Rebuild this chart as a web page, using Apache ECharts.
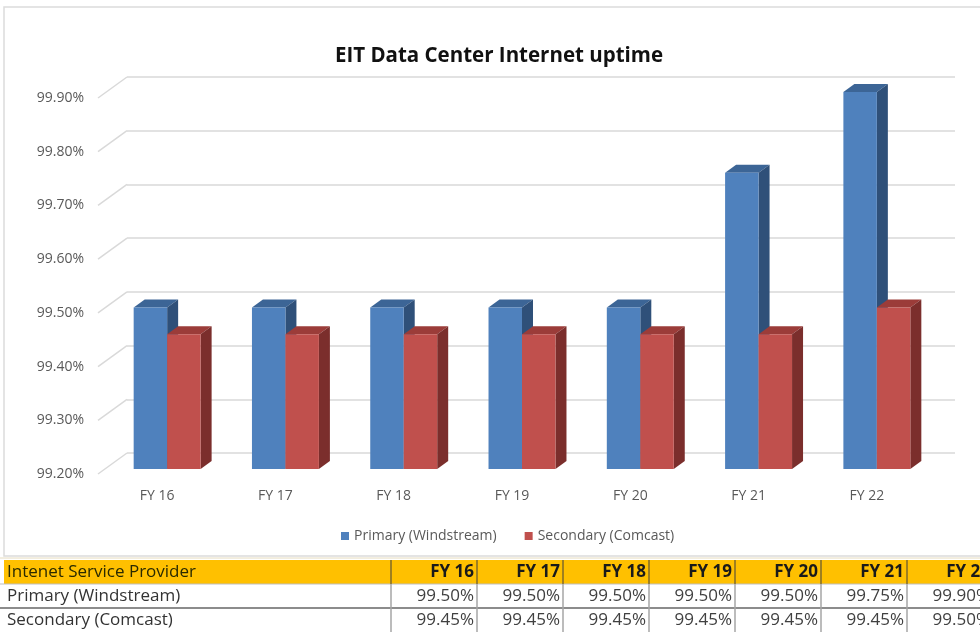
<!DOCTYPE html>
<html>
<head>
<meta charset="utf-8">
<script src="https://cdn.jsdelivr.net/npm/echarts@6/dist/echarts.min.js"></script>
<style>
html,body{margin:0;padding:0;background:#fff;}
#chart{width:980px;height:632px;}
</style>
</head>
<body>
<div id="chart"></div>
<script>
// ---- data ----
const categories = ['FY 16', 'FY 17', 'FY 18', 'FY 19', 'FY 20', 'FY 21', 'FY 22'];
const primary = [99.50, 99.50, 99.50, 99.50, 99.50, 99.75, 99.90];
const secondary = [99.45, 99.45, 99.45, 99.45, 99.45, 99.45, 99.50];
const seriesNames = ['Primary (Windstream)', 'Secondary (Comcast)'];
const tableHeader = 'Intenet Service Provider';
const chartTitle = 'EIT Data Center Internet uptime';
const yMin = 99.2, yMax = 99.9, yStep = 0.1;
const yTickValues = [99.2, 99.3, 99.4, 99.5, 99.6, 99.7, 99.8, 99.9];

// ---- styles ----
const FONT = 'Open Sans';
const blue = {front: '#4f81bd', top: '#3c6596', side: '#2f5079'};
const red = {front: '#c0504d', top: '#9b3c39', side: '#7b2e2c'};
const DX = 11, DY = -8; // bar depth offset
const WX = 29, WY = 21; // wall depth offset

function makeBar(sideIdx, col) {
  return function (params, api) {
    const ci = api.value(0);
    const v = api.value(1);
    const top = api.coord([ci, v]);
    const base = api.coord([ci, yMin]);
    const band = api.size([1, 0])[0];
    const bw = band * 0.283;
    const x0 = sideIdx === 0 ? top[0] - bw : top[0];
    const x1 = x0 + bw;
    const ty = top[1], by = base[1];
    return {
      type: 'group',
      children: [
        {type: 'polygon', shape: {points: [[x0, ty], [x1, ty], [x1 + DX, ty + DY], [x0 + DX, ty + DY]]}, style: {fill: col.top}},
        {type: 'polygon', shape: {points: [[x1, ty], [x1 + DX, ty + DY], [x1 + DX, by + DY], [x1, by]]}, style: {fill: col.side}},
        {type: 'rect', shape: {x: x0, y: ty, width: bw, height: by - ty}, style: {fill: col.front}}
      ]
    };
  };
}

function wallDiag(params, api) {
  const p = api.coord([0, api.value(0)]);
  const x = params.coordSys.x;
  return {
    type: 'line',
    shape: {x1: x - WX, y1: p[1] + WY, x2: x, y2: p[1]},
    style: {stroke: '#d9d9d9', lineWidth: 1.5}
  };
}

// ---- table built from data ----
const colEdges = [4, 391, 477, 563, 649, 735, 821, 907, 993];
const rowEdges = [560, 584, 608, 632];
const tableEls = [];
tableEls.push({type: 'rect', shape: {x: 4, y: rowEdges[0], width: 990, height: rowEdges[1] - rowEdges[0]}, style: {fill: '#ffc000'}});
tableEls.push({type: 'line', shape: {x1: 0, y1: 558, x2: 980, y2: 558}, style: {stroke: '#e6dcc0', lineWidth: 1}});
// horizontal lines
tableEls.push({type: 'line', shape: {x1: 0, y1: rowEdges[1], x2: 980, y2: rowEdges[1]}, style: {stroke: '#bfbfbf', lineWidth: 1}});
tableEls.push({type: 'line', shape: {x1: 0, y1: rowEdges[2], x2: 980, y2: rowEdges[2]}, style: {stroke: '#8c8c8c', lineWidth: 2}});
// vertical lines
for (let i = 1; i < colEdges.length; i++) {
  tableEls.push({type: 'line', shape: {x1: colEdges[i], y1: rowEdges[0], x2: colEdges[i], y2: rowEdges[1]}, style: {stroke: '#7f6a2a', lineWidth: 1.5}});
  tableEls.push({type: 'line', shape: {x1: colEdges[i], y1: rowEdges[1], x2: colEdges[i], y2: 632}, style: {stroke: '#a6a6a6', lineWidth: 1.5}});
}
function cellText(txt, x, y, align, bold, color) {
  return {type: 'text', x: x, y: y, style: {text: txt, textAlign: align, textVerticalAlign: 'middle', font: (bold ? 'bold ' : '') + '17px "' + FONT + '"', fill: color}};
}
tableEls.push(cellText(tableHeader, 7, (rowEdges[0] + rowEdges[1]) / 2, 'left', false, '#2a2a00'));
const rowsData = [primary, secondary];
categories.forEach(function (c, i) {
  tableEls.push(cellText(c, colEdges[i + 2] - 3, (rowEdges[0] + rowEdges[1]) / 2, 'right', true, '#1a1a1a'));
});
rowsData.forEach(function (arr, r) {
  const cy = (rowEdges[r + 1] + rowEdges[r + 2]) / 2;
  tableEls.push(cellText(seriesNames[r], 7, cy, 'left', false, '#333333'));
  arr.forEach(function (v, i) {
    tableEls.push(cellText(v.toFixed(2) + '%', colEdges[i + 2] - 3, cy, 'right', false, '#404040'));
  });
});

const chart = echarts.init(document.getElementById('chart'), null, {renderer: 'canvas'});
const option = {
  backgroundColor: '#ffffff',
  animation: false,
  title: {
    text: chartTitle, left: 494, top: 41, textAlign: 'center',
    textStyle: {fontFamily: FONT, fontWeight: 'bold', fontSize: 20.5, color: '#111111'}
  },
  legend: {
    left: 336, top: 524, itemWidth: 8, itemHeight: 8, itemGap: 28, icon: 'rect',
    textStyle: {fontFamily: FONT, fontSize: 14, color: '#595959'},
    data: seriesNames
  },
  grid: [
    {left: 108, top: 92, width: 828, height: 377},   // bars (mid depth)
    {left: 127, top: 77, width: 828, height: 376},   // back wall
    {left: 98, top: 98, width: 828, height: 376}     // front plane (labels)
  ],
  xAxis: [
    {type: 'category', gridIndex: 0, data: categories, show: false},
    {type: 'category', gridIndex: 1, data: categories, show: false},
    {type: 'category', gridIndex: 2, data: categories,
      axisLine: {show: false}, axisTick: {show: false}, splitLine: {show: false},
      axisLabel: {margin: 15, fontFamily: FONT, fontSize: 14, color: '#595959'}}
  ],
  yAxis: [
    {type: 'value', gridIndex: 0, min: yMin, max: yMax, interval: yStep, show: false},
    {type: 'value', gridIndex: 1, min: yMin, max: yMax, interval: yStep,
      axisLine: {show: false}, axisTick: {show: false}, axisLabel: {show: false},
      splitLine: {show: true, lineStyle: {color: '#d9d9d9', width: 1.5}}},
    {type: 'value', gridIndex: 2, min: yMin, max: yMax, interval: yStep,
      axisLine: {show: false}, axisTick: {show: false}, splitLine: {show: false},
      axisLabel: {margin: 14, fontFamily: FONT, fontSize: 14, color: '#595959',
        formatter: function (v) { return v.toFixed(2) + '%'; }}}
  ],
  series: [
    {type: 'custom', name: 'wall', xAxisIndex: 1, yAxisIndex: 1, silent: true,
      data: yTickValues.map(function (v) { return [v]; }), renderItem: wallDiag, z: 1},
    {type: 'custom', name: seriesNames[0], xAxisIndex: 0, yAxisIndex: 0,
      itemStyle: {color: blue.front},
      data: primary.map(function (v, i) { return [i, v]; }), renderItem: makeBar(0, blue), z: 3},
    {type: 'custom', name: seriesNames[1], xAxisIndex: 0, yAxisIndex: 0,
      itemStyle: {color: red.front},
      data: secondary.map(function (v, i) { return [i, v]; }), renderItem: makeBar(1, red), z: 4}
  ],
  graphic: [
    {type: 'rect', shape: {x: 4, y: 7, width: 1000, height: 549}, style: {fill: 'none', stroke: '#dcdcdc', lineWidth: 1.5}, z: -1},
    {type: 'group', children: tableEls}
  ]
};
chart.setOption(option);
</script>
</body>
</html>
